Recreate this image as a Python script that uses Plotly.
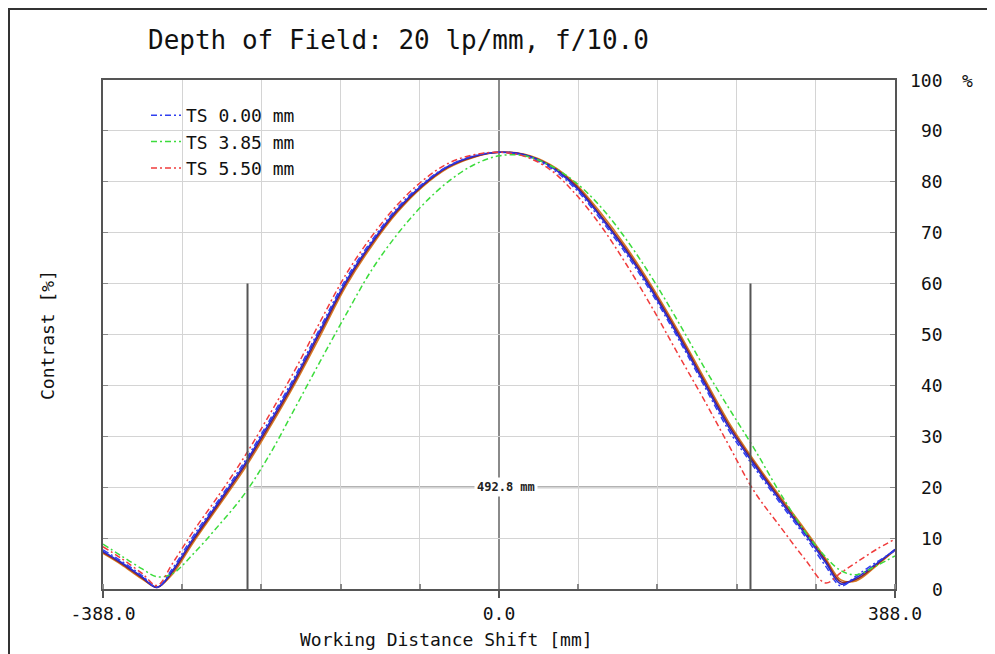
import plotly.graph_objects as go

# ---------------- data ----------------
shift_mm = [-388, -370, -350, -335, -320, -300, -275, -250, -225, -200, -175, -150, -125, -100,
            -75, -50, -25, 0, 25, 50, 75, 100, 125, 150, 175, 200, 225, 250, 275, 300,
            320, 335, 350, 370, 388]

ts000_t = [7.7, 5.5, 2.7, 0.4, 4.0, 10.3, 17.4, 24.8, 33.1, 41.8, 51.4, 60.9, 68.4, 74.8,
           79.6, 83.1, 85.1, 85.8, 85.1, 82.8, 78.6, 72.5, 65.7, 58.0, 49.4, 40.3, 31.2, 23.9,
           17.0, 10.3, 4.5, 0.6, 2.6, 5.3, 7.5]
ts385_t = [8.8, 6.5, 4.0, 2.4, 3.0, 6.8, 12.4, 18.5, 26.3, 35.5, 44.8, 53.9, 62.6, 69.6,
           75.4, 80.0, 83.3, 85.1, 85.1, 83.2, 79.9, 75.0, 68.6, 61.1, 52.7, 43.9, 35.6, 27.6,
           19.0, 11.2, 6.3, 3.6, 2.8, 4.6, 6.5]
ts550_t = [8.3, 6.0, 3.1, 0.7, 5.0, 11.2, 18.3, 25.8, 34.2, 43.0, 52.6, 61.8, 69.2, 75.4,
           80.2, 83.6, 85.3, 85.8, 85.0, 82.4, 77.6, 71.3, 63.7, 55.3, 46.3, 37.5, 28.3, 19.2,
           12.4, 5.8, 1.2, 3.2, 5.2, 7.8, 9.8]

ts000_s = [7.4, 5.2, 2.4, 0.3, 3.6, 9.8, 17.0, 24.3, 32.6, 41.3, 50.9, 60.4, 68.0, 74.5,
           79.4, 83.0, 85.0, 85.8, 85.3, 83.1, 79.0, 73.0, 66.2, 58.5, 49.9, 40.8, 31.8, 24.4,
           17.5, 10.8, 5.2, 1.0, 2.2, 5.0, 7.8]
ts385_s = [7.0, 4.8, 2.0, 0.4, 2.9, 9.0, 16.2, 23.4, 31.6, 40.3, 49.8, 59.5, 67.3, 73.9,
           79.0, 82.7, 84.8, 85.8, 85.4, 83.4, 79.6, 73.8, 67.1, 59.4, 50.9, 41.8, 32.8, 25.2,
           18.3, 11.6, 6.0, 1.8, 1.6, 4.6, 7.6]
ts550_s = [7.2, 5.0, 2.2, 0.3, 3.3, 9.4, 16.6, 23.9, 32.1, 40.8, 50.4, 60.0, 67.7, 74.2,
           79.2, 82.9, 84.9, 85.8, 85.3, 83.2, 79.3, 73.3, 66.6, 58.9, 50.4, 41.3, 32.3, 24.8,
           17.9, 11.2, 5.6, 1.4, 1.9, 4.8, 7.7]

series_names = ["TS 0.00 mm", "TS 3.85 mm", "TS 5.50 mm"]
dof_limits = [-246.4, 246.4]
dof_level = 20
marker_top = 60
x_range = [-388.0, 388.0]
x_ticks = [-388.0, 0.0, 388.0]
y_ticks = [0, 10, 20, 30, 40, 50, 60, 70, 80, 90, 100]

title_text = "Depth of Field: 20 lp/mm, f/10.0"
x_title = "Working Distance Shift [mm]"
y_title = "Contrast [%]"

# ---------------- figure ----------------
FONT = "DejaVu Sans Mono"
OFF = 8                      # page body margin offset
W, H = 995 - OFF, 654 - OFF
ML, MR, MT, MB = 103 - OFF, 100, 80 - OFF, 65
PW, PH = W - ML - MR, H - MT - MB


def px_x(px):   # target page pixel -> paper
    return (px - OFF - ML) / PW


def px_y(py):
    return (H - MB - (py - OFF)) / PH


fig = go.Figure()

solid_colors = ["#2a2ad0", "#d87a22", "#8a2a2a"]
for ys, col in zip([ts385_s, ts550_s, ts000_s], [solid_colors[1], solid_colors[2], solid_colors[0]]):
    fig.add_trace(go.Scatter(x=shift_mm, y=ys, mode="lines", showlegend=False,
                             line=dict(color=col, width=1.6, shape="spline", smoothing=1.0),
                             hoverinfo="skip"))

dash_colors = ["#3040f0", "#3cdc3c", "#f03c3c"]
for name, ys, col in zip(series_names, [ts000_t, ts385_t, ts550_t], dash_colors):
    fig.add_trace(go.Scatter(x=shift_mm, y=ys, mode="lines", name=name,
                             line=dict(color=col, width=1.5, dash="6px,3px,2px,3px",
                                       shape="spline", smoothing=1.0)))

fig.update_xaxes(range=x_range, tickvals=x_ticks,
                 ticktext=[f"{v:.1f}" for v in x_ticks],
                 ticks="outside", ticklen=7, tickcolor="#555", tickwidth=2,
                 showgrid=True, gridcolor="#8a8a8a", gridwidth=2,
                 minor=dict(dtick=77.6, tick0=-388.0, showgrid=True, gridcolor="#d4d4d4",
                            gridwidth=1, ticks="inside", ticklen=5, tickcolor="#888"),
                 showline=True, linecolor="#555", linewidth=2, mirror=True,
                 zeroline=False,
                 tickfont=dict(family=FONT, size=18, color="#111"))
fig.update_yaxes(range=[0, 100], tickvals=y_ticks, showticklabels=False,
                 side="right", ticks="inside", ticklen=5, tickcolor="#888",
                 showgrid=True, gridcolor="#d4d4d4", gridwidth=1,
                 showline=True, linecolor="#555", linewidth=2, mirror="allticks",
                 zeroline=False)

annotations = []
for v in y_ticks:
    annotations.append(dict(x=px_x(945), xref="paper", y=v, yref="y", text=str(v),
                            showarrow=False, xanchor="right", yanchor="middle",
                            font=dict(family=FONT, size=18, color="#111")))
annotations.append(dict(x=px_x(960), xref="paper", y=100, yref="y", text="%",
                        showarrow=False, xanchor="left", yanchor="middle",
                        font=dict(family=FONT, size=18, color="#111")))
annotations.append(dict(x=px_x(398), xref="paper", y=px_y(40), yref="paper", text=title_text,
                        showarrow=False, xanchor="center", yanchor="middle",
                        font=dict(family=FONT, size=26, color="#111")))
annotations.append(dict(x=px_x(446), xref="paper", y=px_y(640), yref="paper", text=x_title,
                        showarrow=False, xanchor="center", yanchor="middle",
                        font=dict(family=FONT, size=18, color="#111")))
annotations.append(dict(x=px_x(47), xref="paper", y=px_y(335), yref="paper", text=y_title,
                        showarrow=False, textangle=-90, xanchor="center", yanchor="middle",
                        font=dict(family=FONT, size=18, color="#111")))
dof = dof_limits[1] - dof_limits[0]
annotations.append(dict(x=(dof_limits[0] + dof_limits[1]) / 2, y=dof_level, xshift=7,
                        text=f"<b>{dof:.1f} mm</b>", showarrow=False, bgcolor="white",
                        xanchor="center", yanchor="middle", borderpad=2,
                        font=dict(family=FONT, size=12, color="#222")))

shapes = []
for xl in dof_limits:
    shapes.append(dict(type="line", xref="x", yref="y", x0=xl, x1=xl, y0=0, y1=marker_top,
                       line=dict(color="#555", width=2), layer="above"))
shapes.append(dict(type="line", xref="x", yref="y", x0=dof_limits[0] + 6, x1=dof_limits[1] - 2,
                   y0=dof_level, y1=dof_level, line=dict(color="#9a9a9a", width=2), layer="below"))
shapes.append(dict(type="rect", xref="paper", yref="paper", x0=px_x(OFF + 1), x1=px_x(990),
                   y0=px_y(670), y1=px_y(OFF + 1), line=dict(color="#333", width=2),
                   fillcolor="rgba(0,0,0,0)"))

fig.update_layout(width=W, height=H, margin=dict(l=ML, r=MR, t=MT, b=MB),
                  paper_bgcolor="white", plot_bgcolor="white",
                  font=dict(family=FONT, size=18, color="#111"),
                  showlegend=True,
                  legend=dict(x=px_x(146), y=px_y(97), xanchor="left", yanchor="top",
                              bgcolor="rgba(0,0,0,0)", font=dict(family=FONT, size=18),
                              itemwidth=30, tracegroupgap=0),
                  annotations=annotations, shapes=shapes)

fig.write_html("out.html")
